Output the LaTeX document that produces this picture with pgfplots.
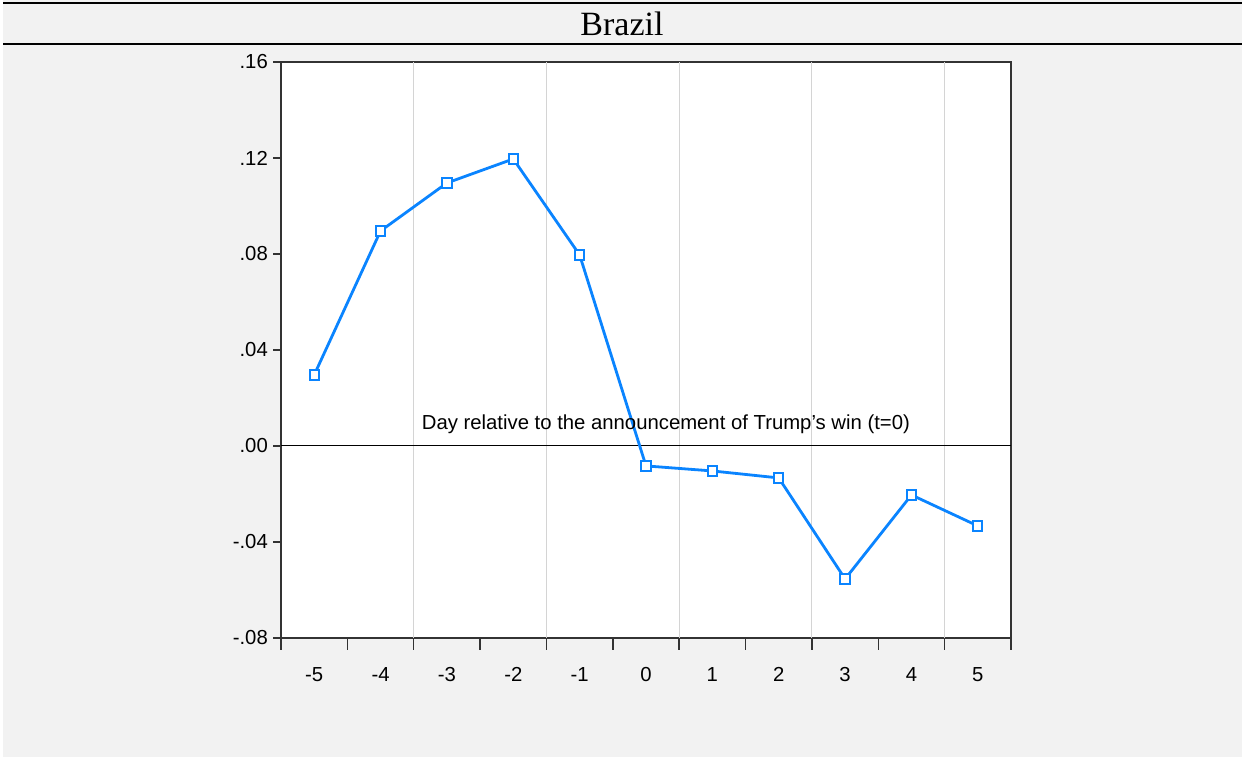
\documentclass[border=0pt]{standalone}
\usepackage{pgfplots}
\pgfplotsset{compat=1.18}
\usepackage{fontspec}
\setmainfont{Liberation Sans}
\newfontfamily\seriffont{Liberation Serif}
\definecolor{bg}{HTML}{F2F2F2}
\definecolor{lineblue}{RGB}{10,132,255}
\definecolor{axgray}{HTML}{333333}
\definecolor{gridgray}{HTML}{D4D4D4}
\begin{document}
\begin{tikzpicture}[x=1pt,y=1pt]
\fill[bg] (0,0) rectangle (1242,757);
\useasboundingbox (0,0) rectangle (1242,757);
\fill[white] (0,0) rectangle (3,757);
\draw[black, line width=2.5pt] (3,754) -- (1242,754);
\draw[black, line width=2.2pt] (3,713) -- (1242,713);
\node[font=\seriffont\fontsize{34}{36}\selectfont] at (622,733) {Brazil};
\begin{axis}[
  at={(281pt,119pt)}, anchor=south west,
  scale only axis, width=730pt, height=576pt,
  xmin=-5.5, xmax=5.5, ymin=-0.08, ymax=0.16,
  axis background/.style={fill=white},
  axis line style={axgray, line width=1.4pt},
  every tick/.style={axgray, line width=1.4pt},
  tick align=outside,
  xtick={-5,-4,-3,-2,-1,0,1,2,3,4,5},
  xticklabels={-5,-4,-3,-2,-1,0,1,2,3,4,5},
  minor xtick={-5.5,-4.5,-3.5,-2.5,-1.5,-0.5,0.5,1.5,2.5,3.5,4.5,5.5},
  xtick style={draw=none},
  minor x tick style={draw=axgray, line width=1.4pt},
  minor tick length=12pt,
  ytick={-0.08,-0.04,0,0.04,0.08,0.12,0.16},
  yticklabels={-.08,-.04,.00,.04,.08,.12,.16},
  major tick length=8pt,
  xtick pos=bottom, ytick pos=left,
  ticklabel style={font=\fontsize{20.3}{22}\selectfont, text=black},
  xticklabel style={inner sep=0pt, yshift=-21pt},
  yticklabel style={inner sep=0pt, xshift=-5pt},
  clip=false,
]
\draw[gridgray, line width=1pt] (axis cs:-3.5,-0.08) -- (axis cs:-3.5,0.16);
\draw[gridgray, line width=1pt] (axis cs:-1.5,-0.08) -- (axis cs:-1.5,0.16);
\draw[gridgray, line width=1pt] (axis cs:0.5,-0.08) -- (axis cs:0.5,0.16);
\draw[gridgray, line width=1pt] (axis cs:2.5,-0.08) -- (axis cs:2.5,0.16);
\draw[gridgray, line width=1pt] (axis cs:4.5,-0.08) -- (axis cs:4.5,0.16);
\draw[black, line width=1pt] (axis cs:-5.5,0) -- (axis cs:5.5,0);
\addplot[lineblue, line width=2.8pt, mark=square*, mark size=4.6pt,
  mark options={fill=white, draw=lineblue, line width=2pt}]
  coordinates {(-5,0.0296) (-4,0.0896) (-3,0.1096) (-2,0.1196) (-1,0.0796)
  (0,-0.0083) (1,-0.0104) (2,-0.0133) (3,-0.0554) (4,-0.0204) (5,-0.0333)};
\node[font=\fontsize{20.3}{22}\selectfont, text=black] at (axis cs:0.3,0.0092) {Day relative to the announcement of Trump\symbol{39}s win (t=0)};
\end{axis}
\end{tikzpicture}
\end{document}
